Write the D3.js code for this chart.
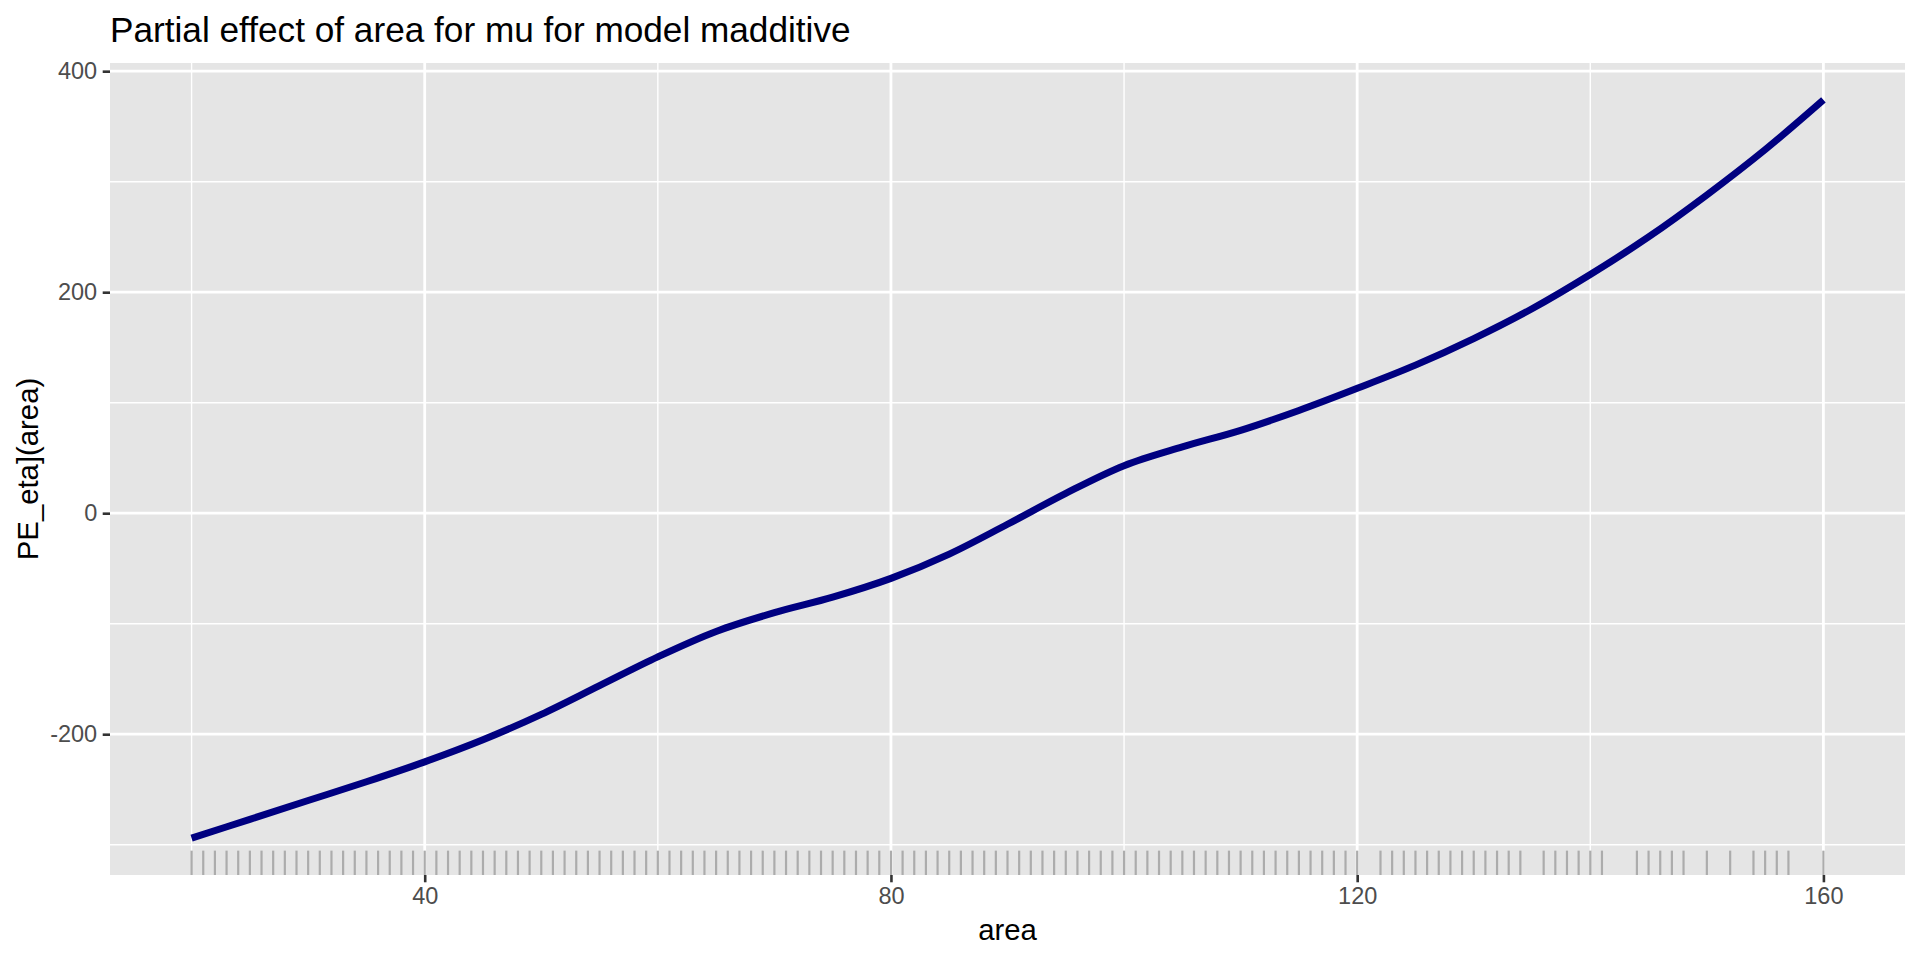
<!DOCTYPE html>
<html lang="en">
<head>
<meta charset="utf-8">
<title>Partial effect of area for mu for model madditive</title>
<script src="https://cdn.jsdelivr.net/npm/d3@7"></script>
<style>
  html, body { margin: 0; padding: 0; background: #ffffff; }
  svg { display: block; font-family: "Liberation Sans", Arial, Helvetica, sans-serif; }
</style>
</head>
<body>
<script>
// smooth term, every 5 units of area
var areaX = [20, 25, 30, 35, 40, 45, 50, 55, 60, 65, 70, 75, 80, 85, 90,
             95, 100, 105, 110, 115, 120, 125, 130, 135, 140, 145, 150, 155, 160];
var effectY = [-294, -277, -260, -243, -225, -205, -182, -156, -130, -107, -90, -76, -59, -37, -10,
               18, 43, 60, 75, 93, 113, 134, 158, 185, 216, 250, 288, 329, 374];

// observed area values (rug)
var rugX = [20, 21, 22, 23, 24, 25, 26, 27, 28, 29, 30, 31, 32, 33, 34, 35, 36, 37, 38, 39,
            40, 41, 42, 43, 44, 45, 46, 47, 48, 49, 50, 51, 52, 53, 54, 55, 56, 57, 58, 59,
            60, 61, 62, 63, 64, 65, 66, 67, 68, 69, 70, 71, 72, 73, 74, 75, 76, 77, 78, 79,
            80, 81, 82, 83, 84, 85, 86, 87, 88, 89, 90, 91, 92, 93, 94, 95, 96, 97, 98, 99,
            100, 101, 102, 103, 104, 105, 106, 107, 108, 109, 110, 111, 112, 113, 114, 115,
            116, 117, 118, 119, 120, 122, 123, 124, 125, 126, 127, 128, 129, 130, 131, 132,
            133, 134, 136, 137, 138, 139, 140, 141, 144, 145, 146, 147, 148, 150, 152, 154,
            155, 156, 157, 160];

var xBreaks = [40, 80, 120, 160];
var xMinor = [20, 60, 100, 140];
var yBreaks = [-200, 0, 200, 400];
var yMinor = [-300, -100, 100, 300];

var titleText = "Partial effect of area for mu for model madditive";
var xTitle = "area";
var yTitle = "PE_eta](area)";

var w = 1920, h = 960;
var panel = { left: 110, right: 1905, top: 63, bottom: 875 };

var svg = d3.select("body").append("svg")
    .attr("width", w)
    .attr("height", h);

// ggplot style 5% expansion
var expand = function(ext) {
  var d = (ext[1] - ext[0]) * 0.05;
  return [ext[0] - d, ext[1] + d];
};

var x = d3.scaleLinear()
    .domain(expand(d3.extent(areaX)))
    .range([panel.left, panel.right]);
var y = d3.scaleLinear()
    .domain(expand(d3.extent(effectY)))
    .range([panel.bottom, panel.top]);

// panel background
svg.append("rect")
    .attr("x", panel.left)
    .attr("y", panel.top)
    .attr("width", panel.right - panel.left)
    .attr("height", panel.bottom - panel.top)
    .attr("fill", "#e5e5e5");

var grid = svg.append("g");

grid.selectAll("line.ymin").data(yMinor).enter().append("line")
    .attr("x1", panel.left).attr("x2", panel.right)
    .attr("y1", function(d) { return y(d); })
    .attr("y2", function(d) { return y(d); })
    .attr("stroke", "#ffffff").attr("stroke-width", 1.4);
grid.selectAll("line.xmin").data(xMinor).enter().append("line")
    .attr("y1", panel.top).attr("y2", panel.bottom)
    .attr("x1", function(d) { return x(d); })
    .attr("x2", function(d) { return x(d); })
    .attr("stroke", "#ffffff").attr("stroke-width", 1.4);
grid.selectAll("line.ymaj").data(yBreaks).enter().append("line")
    .attr("x1", panel.left).attr("x2", panel.right)
    .attr("y1", function(d) { return y(d); })
    .attr("y2", function(d) { return y(d); })
    .attr("stroke", "#ffffff").attr("stroke-width", 2.8);
grid.selectAll("line.xmaj").data(xBreaks).enter().append("line")
    .attr("y1", panel.top).attr("y2", panel.bottom)
    .attr("x1", function(d) { return x(d); })
    .attr("x2", function(d) { return x(d); })
    .attr("stroke", "#ffffff").attr("stroke-width", 2.8);

// rug along the bottom, 3% of panel height
var rugLen = (panel.bottom - panel.top) * 0.03;
svg.append("g").selectAll("line").data(rugX).enter().append("line")
    .attr("x1", function(d) { return x(d); })
    .attr("x2", function(d) { return x(d); })
    .attr("y1", panel.bottom)
    .attr("y2", panel.bottom - rugLen)
    .attr("stroke", "#acacac")
    .attr("stroke-width", 2.2);

// the fitted smooth
var line = d3.line()
    .x(function(d, i) { return x(areaX[i]); })
    .y(function(d) { return y(d); })
    .curve(d3.curveCatmullRom.alpha(0.5));

svg.append("path")
    .datum(effectY)
    .attr("d", line)
    .attr("fill", "none")
    .attr("stroke", "#000080")
    .attr("stroke-width", 7)
    .attr("stroke-linecap", "butt")
    .attr("stroke-linejoin", "round");

// axes
var xAxis = svg.append("g")
    .attr("transform", "translate(0," + panel.bottom + ")")
    .call(d3.axisBottom(x).tickValues(xBreaks).tickSize(7.3).tickPadding(5.5).tickFormat(d3.format("d")));
var yAxis = svg.append("g")
    .attr("transform", "translate(" + panel.left + ",0)")
    .call(d3.axisLeft(y).tickValues(yBreaks).tickSize(7.3).tickPadding(5.5).tickFormat(function(d) { return d < 0 ? "-" + Math.abs(d) : d; }));

[xAxis, yAxis].forEach(function(a) {
  a.select(".domain").remove();
  a.selectAll(".tick line").attr("stroke", "#333333").attr("stroke-width", 2.6);
  a.selectAll(".tick text")
      .attr("fill", "#4d4d4d")
      .attr("font-size", "23.5px")
      .attr("font-family", "'Liberation Sans', Arial, sans-serif");
});

// titles
svg.append("text")
    .attr("x", panel.left)
    .attr("y", 42)
    .attr("font-size", "35.2px")
    .attr("fill", "#000000")
    .text(titleText);

svg.append("text")
    .attr("x", (panel.left + panel.right) / 2)
    .attr("y", 940)
    .attr("text-anchor", "middle")
    .attr("font-size", "29.3px")
    .attr("fill", "#000000")
    .text(xTitle);

svg.append("text")
    .attr("transform", "translate(38," + ((panel.top + panel.bottom) / 2) + ") rotate(-90)")
    .attr("text-anchor", "middle")
    .attr("font-size", "29.3px")
    .attr("fill", "#000000")
    .text(yTitle);
</script>
</body>
</html>
